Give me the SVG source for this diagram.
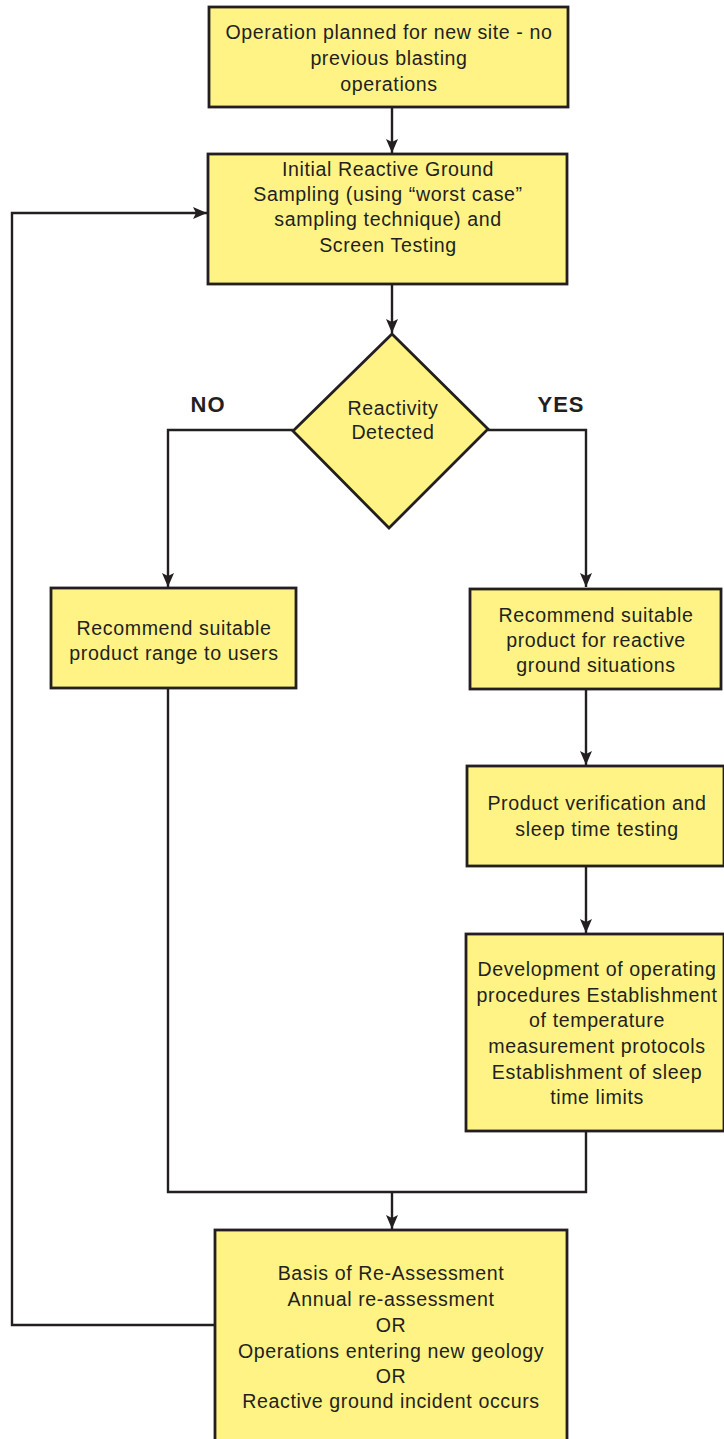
<svg xmlns="http://www.w3.org/2000/svg" width="724" height="1439" viewBox="0 0 724 1439">
<style>
.box{fill:#FFF385;stroke:#231F20;stroke-width:2.8}
.t{font-family:"Liberation Sans",Arial,sans-serif;font-size:19.6px;letter-spacing:0.6px;fill:#231F20;text-anchor:middle}
.lbl{font-family:"Liberation Sans",Arial,sans-serif;font-size:22px;font-weight:bold;letter-spacing:1px;fill:#231F20;text-anchor:middle}
.ln{fill:none;stroke:#231F20;stroke-width:2.4}
</style>
<defs>
<marker id="ah" viewBox="0 0 14 12" refX="14" refY="6" markerWidth="14" markerHeight="12" markerUnits="userSpaceOnUse" orient="auto">
<path d="M0,0 L14,6 L0,12 L3,6 Z" fill="#231F20"/>
</marker>
</defs>
<g id="connectors">
<path class="ln" d="M392,107 V153" marker-end="url(#ah)"/>
<path class="ln" d="M392,285 V333" marker-end="url(#ah)"/>
<path class="ln" d="M293,430 H168 V587" marker-end="url(#ah)"/>
<path class="ln" d="M488,430 H586 V587" marker-end="url(#ah)"/>
<path class="ln" d="M586,689 V765" marker-end="url(#ah)"/>
<path class="ln" d="M586,866 V933" marker-end="url(#ah)"/>
<path class="ln" d="M168,689 V1192 H586 V1132"/>
<path class="ln" d="M392,1192 V1229" marker-end="url(#ah)"/>
<path class="ln" d="M215,1325 H12 V213 H207" marker-end="url(#ah)"/>
</g>
<g id="n1">
<rect class="box" x="209" y="7" width="359" height="100"/>
<text class="t" x="389" y="39">Operation planned for new site - no</text>
<text class="t" x="389" y="65">previous blasting</text>
<text class="t" x="389" y="91">operations</text>
</g>
<g id="n2">
<rect class="box" x="208" y="154" width="359" height="130"/>
<text class="t" x="388" y="176">Initial Reactive Ground</text>
<text class="t" x="388" y="201">Sampling (using “worst case”</text>
<text class="t" x="388" y="226">sampling technique) and</text>
<text class="t" x="388" y="252">Screen Testing</text>
</g>
<g id="n3">
<polygon class="box" points="392,334 488,429 389,528 293,431"/>
<text class="t" x="393" y="415">Reactivity</text>
<text class="t" x="393" y="439">Detected</text>
</g>
<g id="labels">
<text class="lbl" x="208" y="412">NO</text>
<text class="lbl" x="561" y="412">YES</text>
</g>
<g id="n4">
<rect class="box" x="51" y="588" width="245" height="100"/>
<text class="t" x="174" y="635">Recommend suitable</text>
<text class="t" x="174" y="660">product range to users</text>
</g>
<g id="n5">
<rect class="box" x="470" y="589" width="251" height="100"/>
<text class="t" x="596" y="622">Recommend suitable</text>
<text class="t" x="596" y="647">product for reactive</text>
<text class="t" x="596" y="672">ground situations</text>
</g>
<g id="n6">
<rect class="box" x="467" y="766" width="257" height="100"/>
<text class="t" x="597" y="810">Product verification and</text>
<text class="t" x="597" y="836">sleep time testing</text>
</g>
<g id="n7">
<rect class="box" x="466" y="934" width="258" height="197"/>
<text class="t" x="597" y="976">Development of operating</text>
<text class="t" x="597" y="1002">procedures Establishment</text>
<text class="t" x="597" y="1027">of temperature</text>
<text class="t" x="597" y="1053">measurement protocols</text>
<text class="t" x="597" y="1079">Establishment of sleep</text>
<text class="t" x="597" y="1104">time limits</text>
</g>
<g id="n8">
<rect class="box" x="215" y="1230" width="352" height="220"/>
<text class="t" x="391" y="1280">Basis of Re-Assessment</text>
<text class="t" x="391" y="1306">Annual re-assessment</text>
<text class="t" x="391" y="1332">OR</text>
<text class="t" x="391" y="1358">Operations entering new geology</text>
<text class="t" x="391" y="1383">OR</text>
<text class="t" x="391" y="1408">Reactive ground incident occurs</text>
</g>
</svg>
